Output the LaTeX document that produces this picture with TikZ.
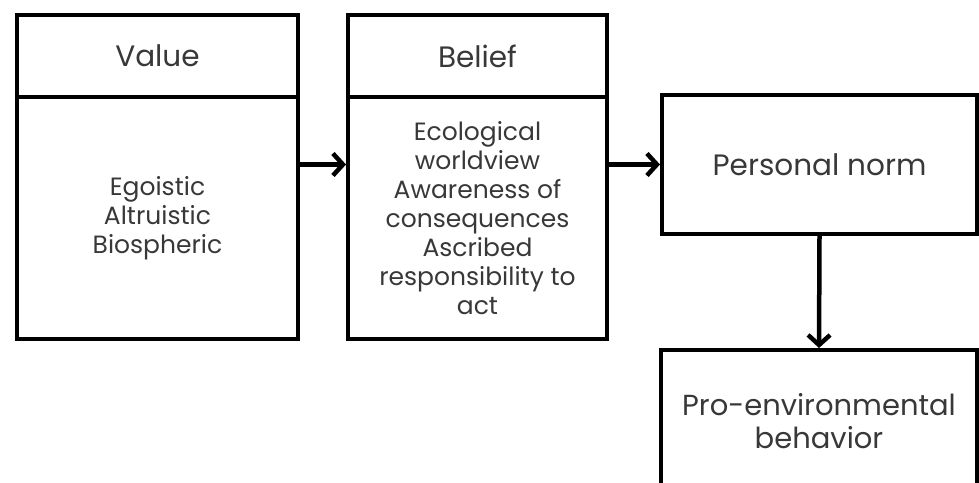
\documentclass[tikz,border=0pt]{standalone}
\usepackage{fontspec}
\setmainfont{Poppins}
\usetikzlibrary{arrows.meta}
\definecolor{txt}{HTML}{383838}
\tikzset{
  box/.style={draw=black, line width=4pt, rectangle, inner sep=0pt, text=txt, align=center},
  headtext/.style={font=\fontsize{29.5}{34}\selectfont},
  bodytext/.style={font=\fontsize{25}{29}\selectfont},
  petext/.style={font=\fontsize{29}{33}\selectfont},
  conn/.style={line width=4.5pt, -{Straight Barb[length=10pt,width=22pt,line width=4.5pt]}}
}
\begin{document}
\begin{tikzpicture}[x=1pt,y=-1pt]
\useasboundingbox (0,0) rectangle (979,482);
\node[box, headtext, minimum width=281pt, minimum height=82pt] (valhead) at (157.5,56) {Value};
\node[box, bodytext, minimum width=281pt, minimum height=242pt] (valbody) at (157.5,218) {Egoistic\\Altruistic\\Biospheric};
\node[box, headtext, minimum width=259pt, minimum height=82pt] (belhead) at (477.5,56) {Belief};
\node[box, bodytext, minimum width=259pt, minimum height=242pt] (belbody) at (477.5,218) {Ecological\\worldview\\Awareness of\\consequences\\Ascribed\\responsibility to\\act};
\node[box, headtext, minimum width=315pt, minimum height=139pt] (pn) at (819.5,164.5) {Personal norm};
\node[box, petext, minimum width=316pt, minimum height=142pt] (pe) at (819,421) {Pro-environmental\\behavior};
\draw[conn] (valbody.east |- pn.west) -- (belbody.west |- pn.west);
\draw[conn] (belbody.east |- pn.west) -- (pn.west);
\draw[conn] (pn.south) -- (pe.north);
\end{tikzpicture}
\end{document}
